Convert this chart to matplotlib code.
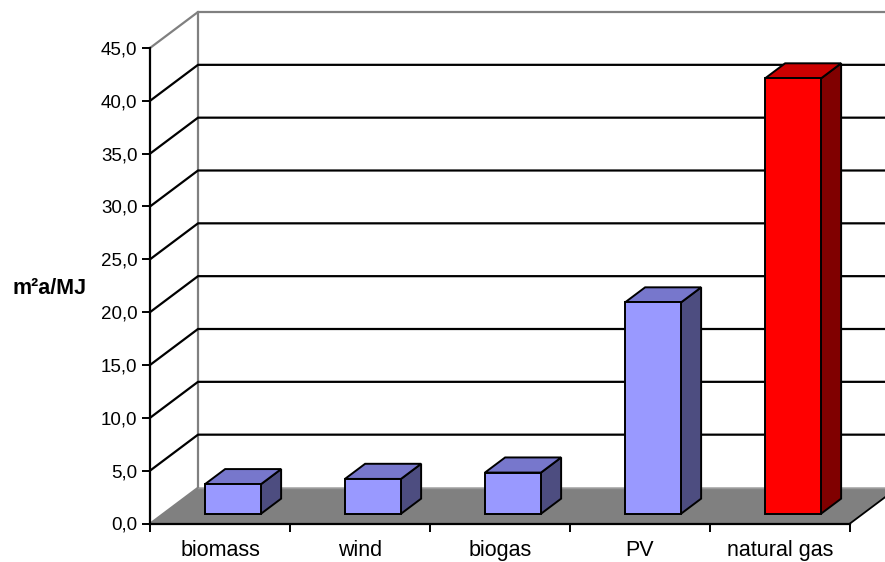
import matplotlib
matplotlib.use("Agg")
import matplotlib.pyplot as plt
from matplotlib.patches import Polygon
from matplotlib.ticker import FuncFormatter, FixedLocator

plt.rcParams['font.family'] = ['Liberation Sans', 'DejaVu Sans']

# Land occupation per energy source
categories = ["biomass", "wind", "biogas", "PV", "natural gas"]
values = [2.8, 3.3, 3.9, 20.0, 41.2]
front_colors = ["#9999FF", "#9999FF", "#9999FF", "#9999FF", "#FF0000"]
top_colors = ["#7777CC", "#7777CC", "#7777CC", "#7777CC", "#CC0000"]
side_colors = ["#4D4D80", "#4D4D80", "#4D4D80", "#4D4D80", "#800000"]
y_ticks = [0, 5, 10, 15, 20, 25, 30, 35, 40, 45]
y_label = "m²a/MJ"

W, H = 885, 562
fig = plt.figure(figsize=(W / 100, H / 100), dpi=100)
ax = fig.add_axes([0, 0, 1, 1])

# pixel scale of the oblique projection
px_x = 140.0          # pixels per category
px_y = 475.5 / 45.0   # pixels per value unit
x0_px, y0_px = 150.0, 523.5
ax.set_xlim((0 - x0_px) / px_x, (W - x0_px) / px_x)
ax.set_ylim((y0_px - H) / px_y, y0_px / px_y)

DX = 48.0 / px_x      # depth offset in category units
DY = 36.0 / px_y      # depth offset in value units
n = len(categories)
ymax = y_ticks[-1]

# floor
floor = Polygon([(0, 0), (n, 0), (n + DX, DY), (DX, DY)], closed=True,
                facecolor="#808080", edgecolor="none", zorder=1)
ax.add_patch(floor)
ax.plot([n, n + DX], [0, DY], color="black", lw=1.3, zorder=1.5)
ax.plot([DX, n + DX], [DY, DY], color="#9a9a9a", lw=1.0, zorder=1.5)
ax.plot([0, DX], [0, DY], color="#808080", lw=1.3, zorder=1.5)

# walls and gridlines
ax.plot([DX, DX], [DY, ymax + DY], color="#808080", lw=1.6, zorder=1.2)
for v in y_ticks[1:]:
    col = "#808080" if v == ymax else "black"
    ax.plot([0, DX, n + DX], [v, v + DY, v + DY], color=col, lw=1.6, zorder=1.3)

# bars: front faces via bar(), top and side faces as polygons
f0 = 0.27      # depth position of the front face
d = 0.42       # bar depth fraction
bw = 0.40
xs = [i + 0.5 + f0 * DX for i in range(n)]
base = f0 * DY
bars = ax.bar(xs, values, width=bw, bottom=base, color=front_colors,
              edgecolor="black", linewidth=1.4, zorder=4)
for x, v, tc, sc in zip(xs, values, top_colors, side_colors):
    L, R = x - bw / 2, x + bw / 2
    T = base + v
    top = Polygon([(L, T), (R, T), (R + d * DX, T + d * DY), (L + d * DX, T + d * DY)],
                  closed=True, facecolor=tc, edgecolor="black", lw=1.4, zorder=3.5)
    side = Polygon([(R, base), (R, T), (R + d * DX, T + d * DY), (R + d * DX, base + d * DY)],
                   closed=True, facecolor=sc, edgecolor="black", lw=1.4, zorder=3.5)
    ax.add_patch(side)
    ax.add_patch(top)

# axes
for s in ("top", "right"):
    ax.spines[s].set_visible(False)
ax.spines["left"].set_position(("data", 0))
ax.spines["left"].set_bounds(0, ymax)
ax.spines["bottom"].set_position(("data", 0))
ax.spines["bottom"].set_bounds(0, n)
for s in ("left", "bottom"):
    ax.spines[s].set_linewidth(1.6)
    ax.spines[s].set_zorder(2)
ax.patch.set_visible(False)

ax.yaxis.set_major_locator(FixedLocator(y_ticks))
ax.yaxis.set_major_formatter(FuncFormatter(lambda v, p: f"{v:.1f}".replace(".", ",")))
ax.tick_params(axis="y", direction="out", length=6, width=1.4, pad=3,
               labelsize=13.5, colors="black")

ax.xaxis.set_major_locator(FixedLocator(list(range(n + 1))))
ax.xaxis.set_major_formatter(FuncFormatter(lambda v, p: ""))
ax.xaxis.set_minor_locator(FixedLocator([i + 0.5 for i in range(n)]))
ax.xaxis.set_minor_formatter(FuncFormatter(lambda v, p: categories[int(v)]))
ax.tick_params(axis="x", which="major", direction="out", length=6, width=1.4)
ax.tick_params(axis="x", which="minor", length=0, pad=12, labelsize=15.5)

ax.set_ylabel(y_label, rotation=0, fontsize=15.5, fontweight="bold")
ax.yaxis.set_label_coords(50 / W, 1 - 288 / H)
ax.yaxis.label.set_va("center")
ax.yaxis.label.set_ha("center")

fig.savefig("out.png", dpi=100, facecolor="white")
